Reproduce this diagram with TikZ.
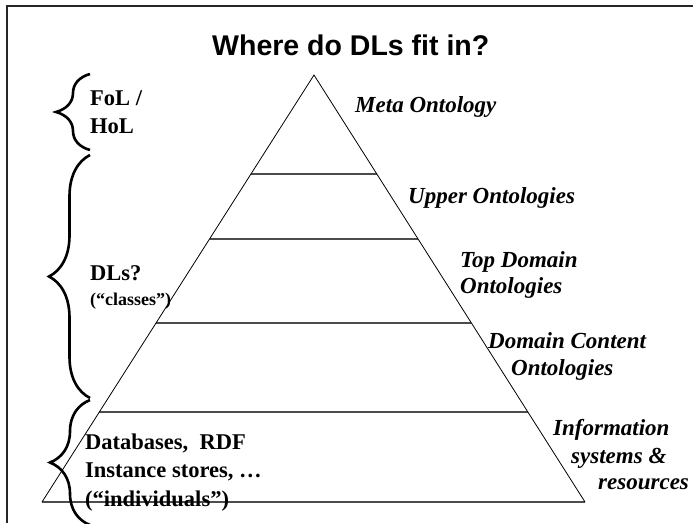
\documentclass[tikz,border=0pt]{standalone}
\usepackage{fontspec}
\setmainfont{Liberation Serif}
\newfontfamily\titlefont{Liberation Sans}
\usetikzlibrary{calc,decorations.pathreplacing}

\tikzset{
  frameline/.style={line width=1.4pt, black!85},
  side/.style={line width=0.8pt, black},
  tier/.style={line width=1.3pt, black!70},
  curly/.style={decorate, decoration={brace, amplitude=#1}, line width=2.6pt},
  layer/.style={anchor=base west, inner sep=0pt,
    font=\fontsize{23}{27}\selectfont\bfseries\itshape},
  logic/.style={anchor=base west, inner sep=0pt,
    font=\fontsize{22.5}{27}\selectfont\bfseries},
  heading/.style={anchor=base west, inner sep=0pt,
    font=\fontsize{28.5}{34}\selectfont\titlefont\bfseries}
}

\begin{document}
\begin{tikzpicture}[x=1pt, y=-1pt]
  \useasboundingbox (0,0) rectangle (693,523);

  % slide frame (only the top and left edges show)
  \coordinate (fl) at (7,523);
  \coordinate (ftl) at (7,6);
  \coordinate (ftr) at (693,6);
  \draw[frameline] (fl) -- (ftl) -- (ftr);

  % title
  \node[heading] (title) at (212,55) {Where do DLs fit in?};

  % pyramid
  \coordinate (apex) at (314,75);
  \coordinate (bl) at (42,502);
  \coordinate (br) at (585,502);
  \foreach \t/\n in {0.2319/a, 0.3841/b, 0.5808/c, 0.7892/d}{
    \coordinate (l\n) at ($(apex)!\t!(bl)$);
    \coordinate (r\n) at ($(apex)!\t!(br)$);
    \draw[tier] (l\n) -- (r\n);
  }
  \draw[tier] (bl) -- (br);
  \draw[side] (bl) -- (apex) -- (br);

  % layer names on the right
  \node[layer] (meta)   at (355,112) {Meta Ontology};
  \node[layer] (upper)  at (408,203) {Upper Ontologies};
  \node[layer] (topd)   at (460,267) {Top Domain};
  \node[layer] (topd2)  at (460,293) {Ontologies};
  \node[layer] (dcont)  at (488,348) {Domain Content};
  \node[layer] (dcont2) at (511,375) {Ontologies};
  \node[layer] (info)   at (553,435) {Information};
  \node[layer] (info2)  at (571,463) {systems \&};
  \node[layer] (info3)  at (598,489) {resources};

  % braces on the left
  \coordinate (b1s) at (90,150);
  \coordinate (b1e) at (90,74);
  \draw[curly=34pt] (b1s) -- (b1e);
  \coordinate (b2s) at (90,398);
  \coordinate (b2e) at (90,155);
  \draw[curly=41pt] (b2s) -- (b2e);
  \coordinate (b3s) at (90,525);
  \coordinate (b3e) at (90,400);
  \draw[curly=40pt] (b3s) -- (b3e);

  % logic families
  \node[logic] (fol)  at (90,105) {FoL /};
  \node[logic] (hol)  at (90,133) {HoL};
  \node[logic] (dls)  at (90,280) {DLs?};
  \node[anchor=base west, inner sep=0pt, font=\fontsize{18}{20}\selectfont\bfseries]
    (cls) at (90,305) {(“classes”)};
  \node[logic] (dbs)  at (85,449) {Databases,\ \ RDF};
  \node[logic] (inst) at (85,477) {Instance stores, …};
  \node[logic] (ind)  at (85,506) {(“individuals”)};
\end{tikzpicture}
\end{document}
